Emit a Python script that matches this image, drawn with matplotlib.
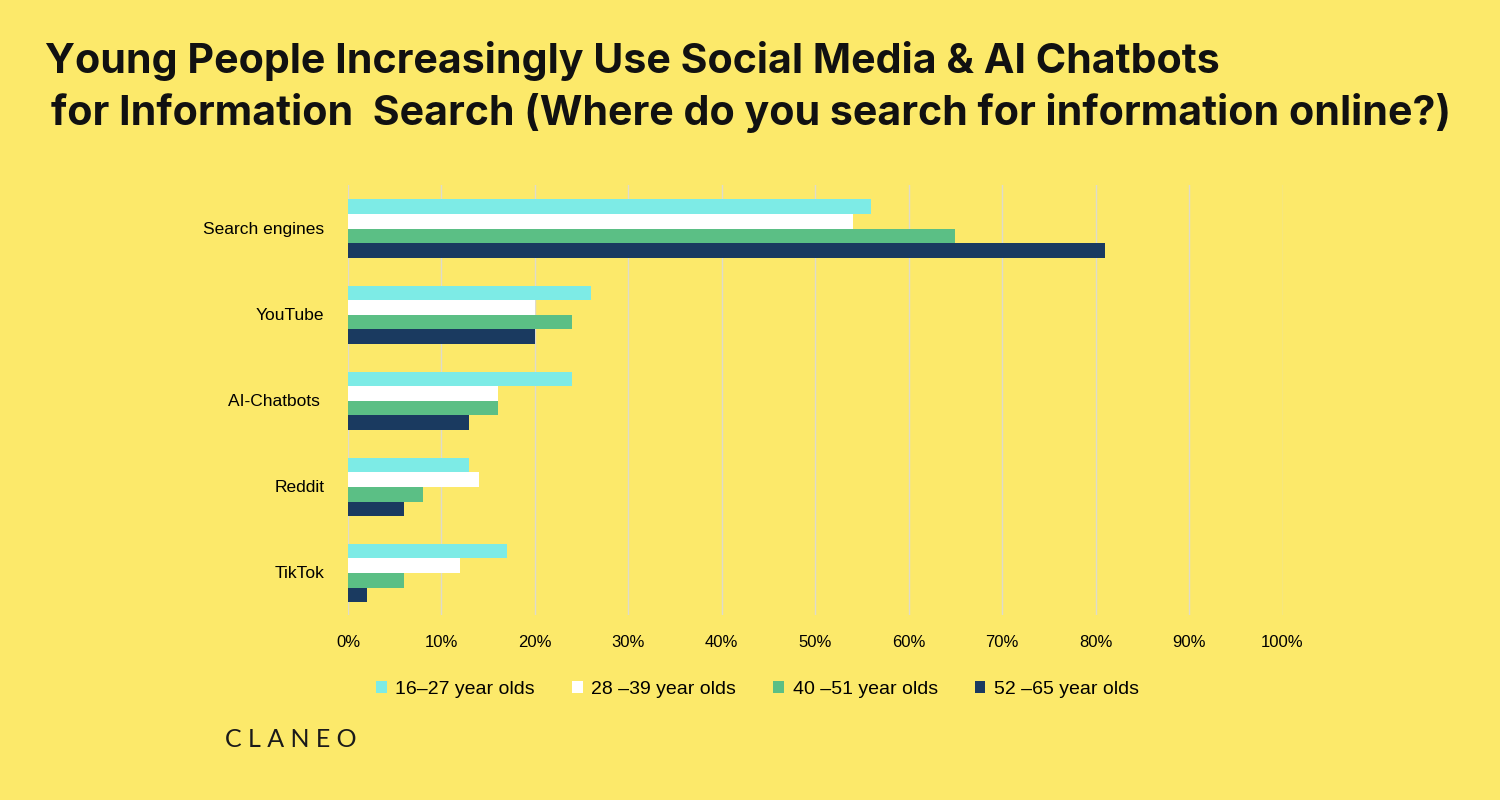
import matplotlib
matplotlib.use("Agg")
import matplotlib.pyplot as plt
import numpy as np
from matplotlib.patches import Patch

# ── Data ─────────────────────────────────────────────────────────────
categories = ["Search engines", "YouTube", "AI-Chatbots ", "Reddit", "TikTok"]
groups = ["16–27 year olds", "28 –39 year olds", "40 –51 year olds", "52 –65 year olds"]
age_16_27 = [56, 26, 24, 13, 17]
age_28_39 = [54, 20, 16, 14, 12]
age_40_51 = [65, 24, 16, 8, 6]
age_52_65 = [81, 20, 13, 6, 2]
series = [age_16_27, age_28_39, age_40_51, age_52_65]
xticks = np.arange(0, 101, 10)

BG = "#FCE96A"
colors = ["#7DEBE6", "#FFFFFF", "#5BBF85", "#1A3A60"]

plt.rcParams["font.family"] = ["Liberation Sans", "DejaVu Sans"]

fig = plt.figure(figsize=(15, 8), dpi=100, facecolor=BG)
ax = fig.add_axes([0.232, 0.231, 0.623, 0.538])
ax.set_facecolor(BG)

y = np.arange(len(categories))
h = 0.17
for i, (vals, c) in enumerate(zip(series, colors)):
    ax.barh(y + (i - 1.5) * h + 0.01, vals, height=h, color=c, zorder=3)

ax.set_xlim(0, 100)
ax.set_ylim(4.5, -0.5)
ax.set_xticks(xticks)
ax.set_xticklabels([f"{v}%" for v in xticks], fontsize=12)
ax.set_yticks(y)
ax.set_yticklabels(categories, fontsize=12.5)
ax.tick_params(axis="x", length=0, pad=14)
ax.tick_params(axis="y", length=0, pad=17)
ax.grid(axis="x", color="#DEDBCB", linewidth=1, zorder=0)
for s in ax.spines.values():
    s.set_visible(False)

# ── Title ────────────────────────────────────────────────────────────
fig.text(0.030, 0.924, "Young People Increasingly Use Social Media & AI Chatbots",
         fontsize=29.6, fontweight="bold", family=["Inter", "DejaVu Sans"],
         ha="left", va="center", color="#111111")
fig.text(0.034, 0.859, "for Information  Search (Where do you search for information online?)",
         fontsize=29.6, fontweight="bold", family=["Inter", "DejaVu Sans"],
         ha="left", va="center", color="#111111")

# ── Legend ───────────────────────────────────────────────────────────
handles = [Patch(facecolor=c, edgecolor="none") for c in colors]
fig.legend(handles, groups, loc="center", bbox_to_anchor=(0.505, 0.138), ncol=4,
           frameon=False, fontsize=14, handlelength=0.55, handleheight=0.55,
           handletextpad=0.45, columnspacing=1.9)

# ── Logo ─────────────────────────────────────────────────────────────
fig.text(0.150, 0.076, "C L A N E O", fontsize=18, fontweight="normal",
         family=["Lato", "DejaVu Sans"], ha="left", va="center", color="#1A1A1A")

plt.savefig("out.png", facecolor=BG)
